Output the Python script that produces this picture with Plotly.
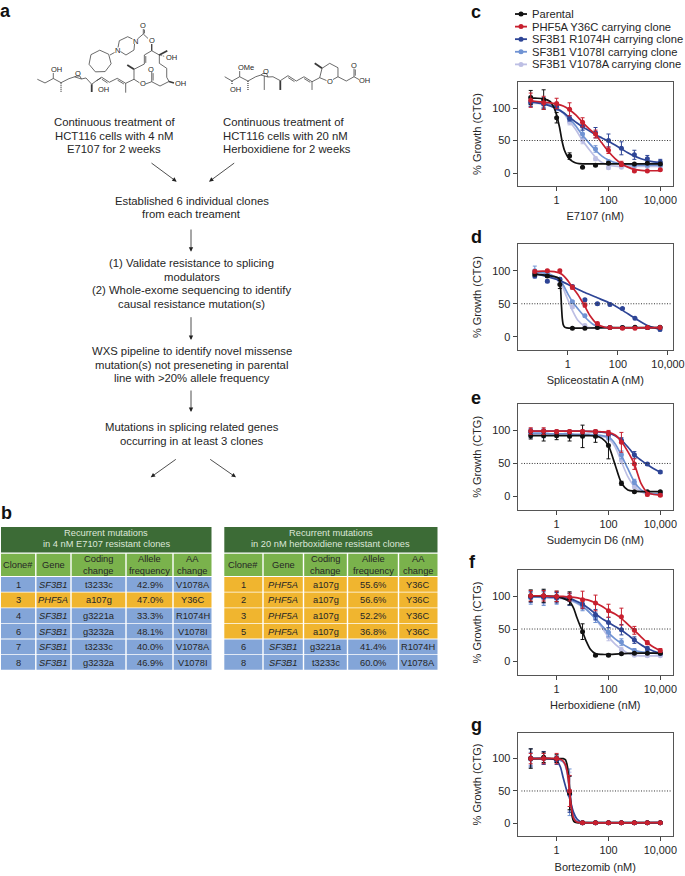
import math
import plotly.graph_objects as go

W, H = 685, 876
FONT = "Liberation Sans"
INK = "#262626"

SERIES = ["Parental", "PHF5A Y36C carrying clone", "SF3B1 R1074H carrying clone",
          "SF3B1 V1078I carrying clone", "SF3B1 V1078A carrying clone"]
COLORS = ["#111111", "#C8202F", "#2E4596", "#7093D3", "#BDBFE4"]
DRAW_ORDER = [4, 3, 2, 0, 1]

DOSES = [0.1, 0.316, 1, 3.16, 10, 31.6, 100, 316, 1000, 3162, 10000]
DOSES_D = [0.048, 0.152, 0.48, 1.52, 4.8, 15.2, 48, 152, 480, 1520, 4800]
GRID = [0.1, 0.18, 0.32, 0.56, 1, 1.8, 3.2, 5.6, 10, 18, 32, 56, 100, 180, 320, 560, 1000, 1800, 3200, 5600, 10000]

# panel c: E7107
C_PTS = [[116, 113, 85, 26, 9, 12, 15, 14, 14, 15, 14],
         [112, 108, 107, 98, 78, 60, 35, 14, 3, 3, 5],
         [108, 106, 103, 84, 72, 62, 50, 38, 28, 22, 17],
         [110, 108, 101, 84, 60, 37, 17, 13, 12, 12, 12],
         [107, 105, 100, 78, 50, 22, 8, 9, 10, 10, 10]]
C_ERR = [[11, 15, 8, 5, 1, 1.5, 2, 1, 1, 1, 1],
         [11, 10, 8, 10, 7, 6, 5, 4, 1, 1, 1],
         [6, 6, 5, 4, 6, 8, 10, 10, 7, 5, 4],
         [8, 8, 5, 4, 6, 5, 3, 2, 1, 1, 1],
         [5, 5, 4, 4, 5, 3, 2, 1, 1, 1, 1]]
C_CX0 = [0.1, 0.18, 0.32, 0.56, 0.8, 1, 1.3, 1.6, 2, 2.5, 3.2, 4.5, 6, 10, 32, 100, 1000, 10000]
C_CY0 = [115, 115, 114, 110, 100, 89, 70, 50, 35, 27, 21, 17, 15, 14, 14, 14, 14, 14]
C_CY1 = [111, 110, 109, 108, 106, 103, 97, 89, 78, 68, 59, 46, 33, 22, 14, 9, 5.5, 4, 3.5, 3.5, 3.5]
C_CY2 = [109, 108, 106, 103, 99, 93, 85, 78, 71, 65, 59, 54, 49, 43, 37, 31, 26, 22, 19, 17, 16]
C_CY3 = [110, 109, 108, 105, 100, 93, 83, 72, 58, 46, 35, 26, 20, 16, 14, 13, 12.5, 12, 12, 12, 12]
C_CY4 = [107, 107, 106, 104, 99, 92, 79, 66, 50, 36, 24, 16, 12, 10.5, 10, 10, 10, 10, 10, 10, 10]

# panel d: Spliceostatin A
D_PTS = [[95, 92, 79, 13, 13, 14, 14, 14, 14.5, 14, 14.5],
         [99, 100, 100, 75, 48, 20, 14, 13, 13, 14, 14],
         [92, 84, 87, 76, 56, 50, 49, 43, 28, 14, 11],
         [100, 95, 87, 53, 32, 18, 14, 14, 14, 14, 14],
         [97, 94, 85, 45, 17, 14, 14, 14, 14, 14, 14]]
D_ERR = [[3, 2, 6, 1, 1, 1, 1, 1, 1, 1, 1],
         [2, 2, 2, 3, 3, 2, 1, 1, 1, 1, 1],
         [3, 2, 2, 2, 2, 2, 2, 1, 1, 1, 2],
         [7, 3, 2, 2, 2, 2, 1, 1, 1, 1, 1],
         [4, 3, 2, 2, 2, 1, 1, 1, 1, 1, 1]]
D_CX0 = [0.048, 0.15, 0.3, 0.42, 0.48, 0.52, 0.56, 0.6, 0.66, 0.75, 0.9, 1.5, 15, 150, 4800]
D_CY0 = [95, 93, 91, 89, 86, 70, 45, 28, 18, 14.5, 13.5, 13, 13.5, 14, 14]
D_CX1 = [0.048, 0.1, 0.2, 0.35, 0.5, 0.7, 1, 1.52, 2.5, 4.8, 8, 15, 30, 60, 600, 4800]
D_CY1 = [99, 99.5, 99, 98, 96, 92, 85, 75, 64, 46, 31, 19, 14.5, 13.5, 13.5, 14]
D_CX2 = [0.048, 0.15, 0.48, 1.52, 4.8, 15, 48, 152, 480, 1520, 4800]
D_CY2 = [95, 91, 85, 76, 67, 59, 51, 40, 28, 17, 11]
D_CX3 = [0.048, 0.15, 0.48, 1, 1.52, 3, 4.8, 10, 15, 48, 4800]
D_CY3 = [98, 96, 86, 65, 53, 39, 30, 19, 16, 14, 14]
D_CX4 = [0.048, 0.15, 0.48, 0.8, 1.52, 2.5, 4.8, 10, 48, 4800]
D_CY4 = [97, 95, 84, 65, 40, 25, 16, 13.5, 13.5, 13.5]

# panel e: Sudemycin D6
E_PTS = [[92, 92, 92, 91, 91, 91, 77, 20, 7, 7, 7],
         [99, 99, 98, 98, 98, 98, 96, 82, 49, 3, 2],
         [99, 99, 98, 98, 98, 98, 95, 85, 63, 49, 37],
         [96, 95, 95, 94, 94, 93, 90, 63, 22, 5, 4],
         [94, 94, 94, 93, 93, 92, 88, 55, 15, 4, 3]]
E_ERR = [[5, 8, 6, 7, 17, 9, 20, 3, 1, 1, 1],
         [5, 5, 3, 3, 3, 3, 4, 15, 8, 2, 2],
         [3, 3, 2, 2, 2, 2, 3, 4, 5, 2, 2],
         [7, 6, 4, 4, 3, 3, 4, 6, 4, 1, 1],
         [6, 5, 4, 4, 3, 3, 4, 5, 3, 1, 1]]
E_CY0 = [92, 92, 92, 92, 92, 92, 92, 92, 92, 92, 91.5, 88, 77, 48, 20, 10, 8, 7.5, 7.5, 7.5, 7.5]
E_CY1 = [99, 99, 99, 99, 99, 99, 99, 99, 99, 98.5, 98.5, 98, 97, 93, 83, 68, 49, 20, 6, 3, 2]
E_CY2 = [99, 99, 99, 99, 99, 99, 99, 99, 99, 98.5, 98, 97.5, 96, 92, 85, 75, 63, 55, 48, 42, 37]
E_CY3 = [96, 96, 96, 95, 95, 95, 95, 94, 94, 94, 93, 92, 90, 80, 62, 42, 22, 10, 5, 4, 4]
E_CY4 = [94, 94, 94, 94, 94, 94, 93, 93, 93, 93, 92, 91, 88, 75, 52, 30, 15, 7, 4, 3.5, 3]

# panel f: Herboxidiene
F_PTS = [[101, 101, 100, 97, 46, 10, 10, 12, 13, 13, 13],
         [101, 101, 100, 99, 95, 90, 78, 69, 48, 29, 17],
         [99, 99, 98, 96, 88, 72, 60, 49, 33, 20, 13],
         [98, 98, 97, 95, 85, 68, 45, 30, 17, 14, 12],
         [98, 97, 97, 94, 85, 66, 38, 18, 10, 9, 9]]
F_ERR = [[9, 10, 8, 10, 12, 2, 2, 1, 1, 1, 1],
         [8, 8, 8, 6, 13, 12, 10, 13, 6, 3, 3],
         [8, 9, 8, 9, 7, 8, 8, 8, 5, 3, 2],
         [10, 12, 9, 9, 7, 8, 7, 5, 3, 2, 2],
         [8, 9, 7, 8, 6, 6, 6, 4, 2, 2, 1]]
F_CX0 = [0.1, 1, 1.8, 3.2, 4.5, 6, 8, 10, 14, 20, 32, 56, 100, 1000, 10000]
F_CY0 = [101, 100, 97, 92, 82, 68, 55, 46, 31, 19, 12, 11, 11, 13, 13]
F_CY1 = [101, 101, 101, 100, 100, 100, 99, 98, 96, 94, 90, 85, 78, 73, 66, 57, 48, 38, 29, 22, 17]
F_CY2 = [100, 100, 100, 99, 99, 98, 97, 93, 88, 81, 73, 66, 60, 54, 48, 41, 33, 26, 20, 16, 13]
F_CY3 = [99, 99, 99, 98, 98, 97, 95, 91, 85, 76, 66, 55, 44, 35, 28, 22, 17, 15, 14, 13, 12]
F_CY4 = [99, 99, 98, 98, 97, 96, 94, 90, 84, 76, 65, 52, 38, 27, 19, 13, 10, 9, 9, 9, 9]

# panel g: Bortezomib
G_PTS = [[100, 102, 100, 47, 1, 1, 1, 1, 1, 1, 1],
         [100, 100, 100, 50, 1, 1, 1, 1, 1, 1, 1],
         [101, 101, 97, 45, 1, 1, 1, 1, 1, 1, 1],
         [99, 100, 99, 48, 1, 1, 1, 1, 1, 1, 1],
         [100, 100, 99, 49, 1, 1, 1, 1, 1, 1, 1]]
G_ERR = [[15, 8, 6, 26, 1, 0.5, 0.5, 0.5, 0.5, 0.5, 0.5],
         [8, 8, 8, 24, 1, 0.5, 0.5, 0.5, 0.5, 0.5, 0.5],
         [14, 10, 6, 28, 1, 0.5, 0.5, 0.5, 0.5, 0.5, 0.5],
         [10, 8, 5, 36, 1, 0.5, 0.5, 0.5, 0.5, 0.5, 0.5],
         [10, 8, 5, 30, 1, 0.5, 0.5, 0.5, 0.5, 0.5, 0.5]]
G_CX0 = [0.1, 1, 1.8, 2.2, 2.6, 3, 3.2, 3.6, 4, 4.6, 6, 10, 10000]
G_CY0 = [100, 100, 100, 98, 88, 65, 50, 28, 10, 3, 1, 1, 1]
G_CX1 = [0.1, 1, 1.6, 2.2, 2.6, 3, 3.3, 3.8, 4.5, 6, 10, 10000]
G_CY1 = [100, 100, 98, 90, 78, 58, 42, 22, 8, 2, 1, 1]
G_CX2 = [0.1, 0.56, 1, 1.4, 1.8, 2.4, 3, 3.6, 4.5, 6, 8, 10, 100, 10000]
G_CY2 = [100, 100, 97, 87, 70, 52, 42, 30, 17, 7, 3, 1.5, 1, 1]
G_CX3 = [0.1, 1, 2, 2.6, 3.2, 3.8, 4.6, 6, 10, 10000]
G_CY3 = [100, 99, 93, 78, 50, 26, 9, 3, 1, 1]
G_CX4 = [0.1, 1, 1.8, 2.4, 3, 3.6, 4.4, 6, 10, 10000]
G_CY4 = [100, 99, 95, 82, 55, 30, 11, 3, 1, 1]

X_TICKS = [1, 100, 10000]
X_TICKTEXT = ["1", "100", "10,000"]
Y_TICKS = [0, 50, 100]

PANELS = [
    dict(title="E7107 (nM)", top=82, bot=186, xr=[-1.51, 4.49], doses=DOSES, pts=C_PTS, err=C_ERR,
         curves=[(C_CX0, C_CY0), (GRID, C_CY1), (GRID, C_CY2), (GRID, C_CY3), (GRID, C_CY4)]),
    dict(title="Spliceostatin A (nM)", top=244.3, bot=350, xr=[-2.01, 4.2], doses=DOSES_D, pts=D_PTS, err=D_ERR,
         curves=[(D_CX0, D_CY0), (D_CX1, D_CY1), (D_CX2, D_CY2), (D_CX3, D_CY3), (D_CX4, D_CY4)]),
    dict(title="Sudemycin D6 (nM)", top=404, bot=509.7, xr=[-1.51, 4.49], doses=DOSES, pts=E_PTS, err=E_ERR,
         curves=[(GRID, E_CY0), (GRID, E_CY1), (GRID, E_CY2), (GRID, E_CY3), (GRID, E_CY4)]),
    dict(title="Herboxidiene (nM)", top=570.3, bot=674.7, xr=[-1.51, 4.49], doses=DOSES, pts=F_PTS, err=F_ERR,
         curves=[(F_CX0, F_CY0), (GRID, F_CY1), (GRID, F_CY2), (GRID, F_CY3), (GRID, F_CY4)]),
    dict(title="Bortezomib (nM)", top=732.7, bot=836.3, xr=[-1.51, 4.49], doses=DOSES, pts=G_PTS, err=G_ERR,
         curves=[(G_CX0, G_CY0), (G_CX1, G_CY1), (G_CX2, G_CY2), (G_CX3, G_CY3), (G_CX4, G_CY4)]),
]

# tables
LEFT_TITLE = ["Recurrent mutations", "in 4 nM E7107 resistant clones"]
RIGHT_TITLE = ["Recurrent mutations", "in 20 nM herboxidiene resistant clones"]
HEAD = [["Clone#"], ["Gene"], ["Coding", "change"], ["Allele", "frequency"], ["AA", "change"]]
LEFT_ROWS = [["1", "SF3B1", "t3233c", "42.9%", "V1078A"],
             ["3", "PHF5A", "a107g", "47.0%", "Y36C"],
             ["4", "SF3B1", "g3221a", "33.3%", "R1074H"],
             ["6", "SF3B1", "g3232a", "48.1%", "V1078I"],
             ["7", "SF3B1", "t3233c", "40.0%", "V1078A"],
             ["8", "SF3B1", "g3232a", "46.9%", "V1078I"]]
RIGHT_ROWS = [["1", "PHF5A", "a107g", "55.6%", "Y36C"],
              ["2", "PHF5A", "a107g", "56.6%", "Y36C"],
              ["3", "PHF5A", "a107g", "52.2%", "Y36C"],
              ["5", "PHF5A", "a107g", "36.8%", "Y36C"],
              ["6", "SF3B1", "g3221a", "41.4%", "R1074H"],
              ["8", "SF3B1", "t3233c", "60.0%", "V1078A"]]
GENE_FILL = {"SF3B1": "#83A5D8", "PHF5A": "#F0B52F"}


def px(x):
    return x / W


def py(y):
    return 1 - y / H


fig = go.Figure()
shapes, annos = [], []

# dose-response panels
for i, p in enumerate(PANELS):
    n = "" if i == 0 else str(i + 1)
    xa, ya = "x" + n, "y" + n
    for s in DRAW_ORDER:
        cx, cy = p["curves"][s]
        fig.add_trace(go.Scatter(x=cx, y=cy, xaxis=xa, yaxis=ya, mode="lines", showlegend=False, hoverinfo="skip",
                                 line=dict(color=COLORS[s], width=1.7, shape="spline", smoothing=0.7)))
        fig.add_trace(go.Scatter(x=p["doses"], y=p["pts"][s], xaxis=xa, yaxis=ya, mode="markers", name=SERIES[s],
                                 showlegend=False, marker=dict(color=COLORS[s], size=5),
                                 error_y=dict(type="data", array=p["err"][s], color=COLORS[s], thickness=1, width=2)))
    axis = dict(showline=True, mirror=True, linecolor="#555555", linewidth=1, showgrid=False, zeroline=False,
                automargin=False, ticks="outside", ticklen=4, tickwidth=1, tickcolor="#444444",
                tickfont=dict(size=10.9, color=INK, family=FONT))
    fig.update_layout({
        "xaxis" + n: dict(axis, type="log", range=p["xr"], domain=[px(517.5), px(673)], anchor=ya,
                          tickvals=X_TICKS, ticktext=X_TICKTEXT,
                          title=dict(text=p["title"], standoff=7, font=dict(size=11, color=INK, family=FONT))),
        "yaxis" + n: dict(axis, range=[-20, 140], domain=[py(p["bot"]), py(p["top"])], anchor=xa,
                          tickvals=Y_TICKS,
                          title=dict(text="% Growth (CTG)", standoff=8, font=dict(size=11, color=INK, family=FONT))),
    })
    shapes.append(dict(type="line", xref=xa + " domain", yref=ya, x0=0.025, x1=0.99, y0=50, y1=50,
                       line=dict(color="#333333", width=1, dash="1px,1.6px")))


# helpers for the drawn parts
def text(x, y, s, size=11.3, anchor="center", **kw):
    annos.append(dict(xref="paper", yref="paper", x=px(x), y=py(y), text=s, showarrow=False, xanchor=anchor,
                      yanchor="middle", font=dict(size=size, color=kw.get("color", INK), family=FONT)))


def rect(x0, y0, x1, y1, fill):
    shapes.append(dict(type="rect", xref="paper", yref="paper", x0=px(x0), x1=px(x1), y0=py(y1), y1=py(y0),
                       fillcolor=fill, line=dict(width=0), layer="below"))


def poly(points, width=0.75, dash=None, color="#3A3A3A", closed=False):
    d = "M" + " L".join("%.4f,%.4f" % (px(a), py(b)) for a, b in points) + (" Z" if closed else "")
    shapes.append(dict(type="path", xref="paper", yref="paper", path=d,
                       line=dict(color=color, width=width, dash=dash or "solid")))


def double(a, b, off=1.5):
    poly([a, b])
    dx, dy = b[0] - a[0], b[1] - a[1]
    L = math.hypot(dx, dy)
    nx, ny = -dy / L * off, dx / L * off
    poly([(a[0] + nx + dx * .12, a[1] + ny + dy * .12), (b[0] + nx - dx * .12, b[1] + ny - dy * .12)])


def arrow(x0, y0, x1, y1):
    annos.append(dict(xref="paper", yref="paper", axref="pixel", ayref="pixel", x=px(x1), y=py(y1), ax=x0 - x1, ay=y0 - y1,
                      text="", showarrow=True, arrowhead=2, arrowsize=1.1, arrowwidth=0.8, arrowcolor="#222222"))


# tables
def add_table(title, rows, bounds):
    rect(bounds[0], 527, bounds[-1], 552.5, "#3C6B36")
    text((bounds[0] + bounds[-1]) / 2, 532.8, title[0], size=9.3, color="#DDE7D8")
    text((bounds[0] + bounds[-1]) / 2, 544, title[1], size=9.3, color="#DDE7D8")
    for c in range(5):
        x0, x1 = bounds[c] + (0.7 if c else 0), bounds[c + 1] - (0.7 if c < 4 else 0)
        mid = (x0 + x1) / 2
        rect(x0, 553.7, x1, 576, "#7AB24C")
        lines = HEAD[c]
        if len(lines) == 1:
            text(mid, 564.7, lines[0], size=9.3)
        else:
            text(mid, 559.2, lines[0], size=9.3)
            text(mid, 570.5, lines[1], size=9.3)
        for r, row in enumerate(rows):
            y0 = 577 + 15.6 * r
            rect(x0, y0, x1, y0 + 14.8, GENE_FILL[row[1]])
            value = "<i>%s</i>" % row[c] if c == 1 else row[c]
            text(mid, y0 + 7.7, value, size=9.3)


add_table(LEFT_TITLE, LEFT_ROWS, [1, 35.8, 71, 126, 173, 211.5])
add_table(RIGHT_TITLE, RIGHT_ROWS, [224.3, 263, 303.5, 347.5, 398.5, 437.5])

# panel letters
for s, x, y in [("a", 5, 11), ("b", 6, 513), ("c", 476, 12), ("d", 476, 237), ("e", 476, 398), ("f", 473, 562), ("g", 476, 725)]:
    text(x, y, "<b>%s</b>" % s, size=18, color="#111111")

# legend
for k, (name, col) in enumerate(zip(SERIES, COLORS)):
    y = 14 + 12.6 * k
    poly([(515, y), (527, y)], width=1.8, color=col)
    shapes.append(dict(type="circle", xref="paper", yref="paper", x0=px(518.5), x1=px(523.5), y0=py(y + 2.5), y1=py(y - 2.5),
                       fillcolor=col, line=dict(color=col, width=0)))
    text(530, y, name, size=11.2, anchor="left")

# flow text
for s, y in [("Continuous treatment of", 122), ("HCT116 cells with 4 nM", 136), ("E7107 for 2 weeks", 149)]:
    text(114, y, s)
for s, y in [("Continuous treatment of", 122), ("HCT116 cells with 20 nM", 136), ("Herboxidiene for 2 weeks", 149)]:
    text(221, y, s, anchor="left")
for s, y in [("Established 6 individual clones", 200.7), ("from each treament", 214),
             ("(1) Validate resistance to splicing", 263), ("modulators", 277),
             ("(2) Whole-exome sequencing to identify", 290), ("causal resistance mutation(s)", 304),
             ("WXS pipeline to identify novel missense", 351.3), ("mutation(s) not preseneting in parental", 365),
             ("line with >20% allele frequency", 378),
             ("Mutations in splicing related genes", 427), ("occurring in at least 3 clones", 441)]:
    text(191.5, y, s)
arrow(150, 162, 176.7, 181.7)
arrow(235.7, 162, 209, 181.7)
arrow(191, 228, 191, 251.7)
arrow(191, 315.7, 191, 340)
arrow(191, 389, 191, 412)
arrow(177.3, 458.3, 150.7, 477.3)
arrow(208.7, 458.3, 236, 477.3)

# E7107 structure
poly([(37.3, 79.3), (45, 83), (53.3, 78.5), (61, 82.7), (69, 78.7), (74.5, 76.8)])
poly([(53.3, 78.5), (53.3, 73)])
poly([(61, 82.7), (61, 92)], dash="1px,1px", width=1.2)
poly([(74.5, 76.8), (81.5, 79), (79.8, 76), (76.8, 76), (74.5, 76.8)])
poly([(81.5, 79), (86, 78), (91.7, 84.3), (96, 81)])
poly([(91.7, 84.3), (91.7, 92)], width=1.8)
double((96, 81), (101.7, 77.3), 0.1)
double((101.7, 77.3), (109.3, 82.3))
poly([(109.3, 82.3), (117.3, 78.3)])
double((117.3, 78.3), (125.7, 83.3))
poly([(125.7, 83.3), (125.7, 92.7)])
poly([(125.7, 83.3), (134, 79.3), (134, 69.3), (144.3, 64)])
poly([(134, 79.3), (139.5, 82.8)])
poly([(134, 69.3), (127.3, 65)], width=1.8)
double((144.3, 64), (144.3, 55))
poly([(144.3, 55), (151.7, 50.7), (159.3, 55), (159.3, 63.3), (166.7, 68.3), (166.7, 77.3), (169, 81.5), (160, 86), (151.7, 81.7), (145.5, 84)])
poly([(151.7, 50.7), (151.7, 44)], width=1.3)
poly([(159.3, 55), (167.3, 50.7)], width=1.8)
poly([(159.3, 55), (165, 56.5)], dash="1px,1px")
poly([(169, 81.5), (174, 83)], width=1.5)
double((151.7, 81.7), (151.7, 72), 1.4)
poly([(148, 38.5), (143.3, 34), (137.5, 39)])
double((143.3, 34), (143.3, 29), 1.2)
poly([(132.5, 39), (127.7, 36.7), (119.3, 40.7), (118, 47.5)])
poly([(120.5, 51.5), (126, 55), (134, 50), (134.5, 44)])
poly([(114.5, 52.5), (110, 55)])
R = 11.3
poly([(100 + R * math.cos(math.radians(-40 + 360 / 7 * j)), 61.5 + R * math.sin(math.radians(-40 + 360 / 7 * j))) for j in range(7)], closed=True)
for s, x, y in [("OH", 56, 69.3), ("O", 78.3, 73.3), ("OH", 103, 90), ("O", 143, 84), ("O", 150.7, 69.3), ("OH", 180, 83.3),
                ("OH", 171, 57.7), ("O", 151.5, 40.8), ("O", 143.3, 26), ("N", 135, 41), ("N", 117.5, 50.5)]:
    text(x, y, s, size=7.5)

# Herboxidiene structure
poly([(224.7, 76.7), (232, 81), (239.7, 76.7), (248, 81), (255.7, 76.7), (261, 75)])
poly([(232, 81), (232, 85)], dash="1px,1px", width=1.2)
poly([(239.7, 76.7), (239.7, 71)])
poly([(248, 81), (248, 91)], dash="1px,1px", width=1.2)
poly([(261, 75), (268, 77), (266.5, 73.5), (263, 73.5), (261, 75)])
poly([(264.3, 76), (264.3, 90)])
poly([(268, 77), (273, 76.7), (280.3, 80.7), (288, 75.7)])
poly([(280.3, 80.7), (280.3, 90)], width=1.8)
double((288, 75.7), (296.3, 81))
poly([(296.3, 81), (304, 76.7)])
double((304, 76.7), (312, 81.7))
poly([(312, 81.7), (312, 90)])
poly([(312, 81.7), (319.7, 77.7), (322, 68.3), (329.7, 63.3), (338, 67.7), (338, 76.7), (333, 79.5)])
poly([(319.7, 77.7), (326.5, 80.5)])
poly([(322, 68.3), (314.7, 63.3)], width=1.8)
poly([(338, 76.7), (346.3, 81), (354, 76.7), (359, 79.5)])
double((354, 76.7), (354, 68.5), 1.3)
for s, x, y in [("OH", 235.3, 90), ("OMe", 245.7, 67.3), ("O", 265.7, 71.2), ("O", 329.7, 81), ("O", 354, 65.5), ("OH", 364, 80.5)]:
    text(x, y, s, size=7.5)

fig.update_layout(template="none", width=W, height=H, margin=dict(l=0, r=0, t=0, b=0, pad=0), autosize=False,
                  paper_bgcolor="white", plot_bgcolor="white", showlegend=False,
                  font=dict(family=FONT, color=INK), shapes=shapes, annotations=annos)
fig.write_html("out.html", config={"displayModeBar": False}, post_script="document.body.style.margin='0';")
